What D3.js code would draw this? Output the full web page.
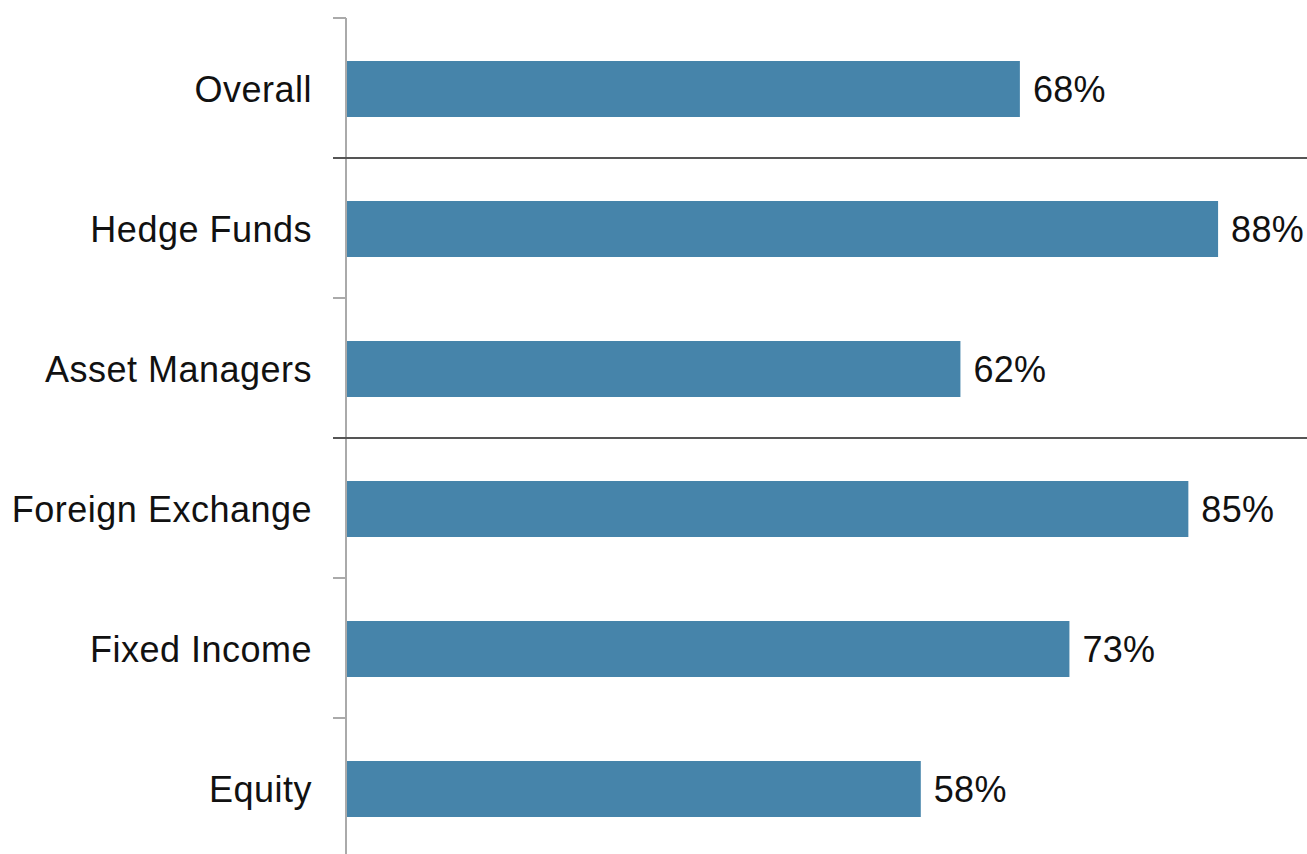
<!DOCTYPE html>
<html>
<head>
<meta charset="utf-8">
<script src="https://cdn.jsdelivr.net/npm/d3@7"></script>
<style>
    body { margin: 0; background: #fff; }
    svg { display: block; font-family: "Liberation Sans", Arial, sans-serif; }
</style>
</head>
<body>
<svg id="chart"></svg>
<script>
// Chart data
const categories = ['Overall', 'Hedge Funds', 'Asset Managers', 'Foreign Exchange', 'Fixed Income', 'Equity'];
const values = [68, 88, 62, 85, 73, 58];
// Groups are split by a darker rule after these categories
const groupBreaks = ['Overall', 'Asset Managers'];

const width = 1307;
const height = 854;
const axisX = 346;

const svg = d3.select('#chart')
    .attr('width', width)
    .attr('height', height);

// Scales
const yScale = d3.scaleBand()
    .domain(categories)
    .range([18, 858])
    .paddingInner(0.6)
    .paddingOuter(0.3);

const xScale = d3.scaleLinear()
    .domain([0, 100])
    .range([axisX, axisX + 991]);

// Bars
svg.selectAll('.bar')
    .data(categories)
    .enter()
    .append('rect')
    .attr('class', 'bar')
    .attr('x', xScale(0))
    .attr('y', d => yScale(d) + 1)
    .attr('width', (d, i) => xScale(values[i]) - xScale(0))
    .attr('height', yScale.bandwidth())
    .attr('fill', '#4684aa');

// Value labels
svg.selectAll('.value')
    .data(categories)
    .enter()
    .append('text')
    .attr('class', 'value')
    .attr('x', (d, i) => xScale(values[i]) + 13)
    .attr('y', d => yScale(d) + 1 + yScale.bandwidth() / 2)
    .attr('dy', '0.36em')
    .attr('fill', '#111')
    .style('font-size', '36px')
    .style('letter-spacing', '0.3px')
    .text((d, i) => values[i] + '%');

// Category labels
svg.selectAll('.label')
    .data(categories)
    .enter()
    .append('text')
    .attr('class', 'label')
    .attr('x', 312)
    .attr('y', d => yScale(d) + 1 + yScale.bandwidth() / 2)
    .attr('dy', '0.36em')
    .attr('text-anchor', 'end')
    .attr('fill', '#111')
    .style('font-size', '36px')
    .style('letter-spacing', '0.5px')
    .text(d => d);

// Tick marks at band boundaries
const step = yScale.step();
const boundaries = d3.range(categories.length + 1).map(i => 18 + i * step);

svg.selectAll('.tick')
    .data(boundaries)
    .enter()
    .append('line')
    .attr('x1', axisX - 13)
    .attr('x2', axisX)
    .attr('y1', d => d)
    .attr('y2', d => d)
    .attr('stroke', '#aaa')
    .attr('stroke-width', 2);

// Axis line
svg.append('line')
    .attr('x1', axisX)
    .attr('x2', axisX)
    .attr('y1', 18)
    .attr('y2', 858)
    .attr('stroke', '#aaa')
    .attr('stroke-width', 2);

// Group separators
svg.selectAll('.sep')
    .data(groupBreaks)
    .enter()
    .append('line')
    .attr('class', 'sep')
    .attr('x1', axisX - 13)
    .attr('x2', width)
    .attr('y1', d => 18 + (categories.indexOf(d) + 1) * step)
    .attr('y2', d => 18 + (categories.indexOf(d) + 1) * step)
    .attr('stroke', '#555')
    .attr('stroke-width', 2);
</script>
</body>
</html>
